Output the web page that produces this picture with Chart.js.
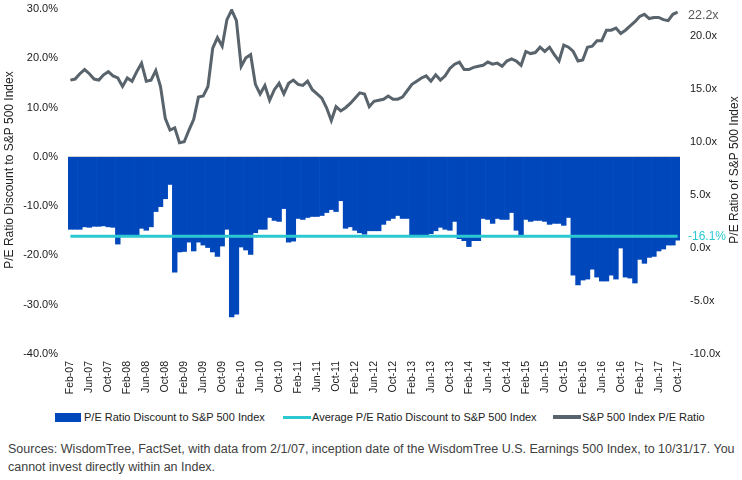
<!DOCTYPE html>
<html>
<head>
<meta charset="utf-8">
<script src="https://cdn.jsdelivr.net/npm/chart.js@4.4.0/dist/chart.umd.min.js"></script>
<style>
  body { margin: 0; background: #fff; font-family: "Liberation Sans", Arial, sans-serif; }
  #wrap { position: relative; width: 742px; height: 480px; overflow: hidden; }
  #chart { position: absolute; left: 0; top: 0; }
  .leg { position: absolute; top: 411px; font-size: 11px; line-height: 12px; color: #222; white-space: nowrap; }
  .sw { position: absolute; }
  #src { position: absolute; left: 8px; top: 440px; font-size: 12.5px; line-height: 18px; color: #404040; white-space: nowrap; }
</style>
</head>
<body>
<div id="wrap">
  <canvas id="chart" width="742" height="405"></canvas>
  <div class="sw" style="left:55px;top:413px;width:26px;height:9px;background:#0047BB"></div>
  <div class="leg" style="left:84px">P/E Ratio Discount to S&amp;P 500 Index</div>
  <div class="sw" style="left:283px;top:416px;width:28px;height:3px;background:#2CC8D2"></div>
  <div class="leg" style="left:312px">Average P/E Ratio Discount to S&amp;P 500 Index</div>
  <div class="sw" style="left:553px;top:415px;width:28px;height:4px;background:#58636B"></div>
  <div class="leg" style="left:582px">S&amp;P 500 Index P/E Ratio</div>
  <div id="src">Sources: WisdomTree, FactSet, with data from 2/1/07, inception date of the WisdomTree U.S. Earnings 500 Index, to 10/31/17. You<br>cannot invest directly within an Index.</div>
</div>
<script>
// monthly categories, Feb-07 .. Oct-17
const monthNames = ['Jan', 'Feb', 'Mar', 'Apr', 'May', 'Jun', 'Jul', 'Aug', 'Sep', 'Oct', 'Nov', 'Dec'];
const months = [];
for (let y = 2007; y <= 2017; y++) {
    for (let m = 0; m < 12; m++) {
        if (y === 2007 && m < 1) continue;
        if (y === 2017 && m > 9) continue;
        months.push(monthNames[m] + '-' + String(y).slice(2));
    }
}

const tickLabels = [
    'Feb-07', 'Jun-07', 'Oct-07', 'Feb-08', 'Jun-08', 'Oct-08', 'Feb-09', 'Jun-09', 'Oct-09',
    'Feb-10', 'Jun-10', 'Oct-10', 'Feb-11', 'Jun-11', 'Oct-11', 'Feb-12', 'Jun-12', 'Oct-12',
    'Feb-13', 'Jun-13', 'Oct-13', 'Feb-14', 'Jun-14', 'Oct-14', 'Feb-15', 'Jun-15', 'Oct-15',
    'Feb-16', 'Jun-16', 'Oct-16', 'Feb-17', 'Jun-17', 'Oct-17'
];

// P/E ratio discount to S&P 500 (%)
const discount = [
    -14.7, -14.7, -14.7, -14.2, -14.3, -14.1, -14.1, -14.0, -14.2, -14.3,
    -17.7, -15.9, -16.0, -16.0, -15.9, -14.5, -14.9, -14.2, -11.1, -10.1,
    -8.5, -5.6, -23.4, -19.3, -19.2, -17.3, -19.1, -17.3, -17.9, -18.4,
    -19.3, -20.2, -18.1, -14.7, -32.5, -31.9, -18.3, -18.9, -19.8, -15.4,
    -14.7, -14.7, -12.3, -12.9, -13.1, -10.5, -17.3, -17.1, -12.5, -12.7,
    -12.3, -12.1, -12.1, -11.9, -11.3, -10.7, -11.1, -8.9, -14.5, -14.2,
    -14.9, -15.4, -15.7, -15.0, -15.0, -15.0, -13.7, -12.9, -12.5, -11.9,
    -12.5, -12.5, -15.8, -15.8, -15.8, -15.8, -15.6, -15.0, -14.3, -14.7,
    -14.9, -13.1, -16.6, -17.0, -18.2, -17.0, -17.0, -12.5, -12.7, -13.5,
    -12.5, -12.7, -12.7, -11.3, -14.9, -16.0, -12.7, -13.1, -12.9, -12.9,
    -13.1, -13.7, -13.5, -13.5, -13.9, -12.3, -24.0, -26.0, -25.0, -24.8,
    -22.8, -24.4, -25.2, -25.2, -24.0, -24.8, -18.5, -24.4, -24.6, -25.6,
    -20.8, -21.6, -20.4, -20.2, -19.1, -18.7, -17.9, -17.9, -16.9
];

// S&P 500 Index P/E ratio (x)
const spxPE = [
    15.8, 15.9, 16.4, 16.8, 16.4, 15.9, 15.8, 16.3, 16.6, 16.2,
    16.0, 15.2, 16.0, 15.7, 16.6, 17.4, 15.7, 15.8, 16.7, 15.2,
    12.2, 11.1, 11.3, 9.9, 10.0, 11.1, 12.1, 14.2, 14.3, 15.2,
    18.8, 19.8, 19.0, 21.5, 22.4, 21.4, 17.1, 17.9, 18.2, 15.4,
    14.5, 15.3, 13.9, 14.9, 15.5, 14.5, 15.5, 15.8, 15.4, 15.3,
    15.7, 14.9, 14.5, 14.1, 13.2, 12.0, 13.3, 12.9, 13.2, 13.6,
    14.1, 14.6, 14.5, 13.3, 13.8, 13.9, 14.0, 14.3, 14.0, 14.0,
    14.2, 14.8, 15.4, 15.7, 16.0, 16.2, 15.7, 16.3, 15.8, 16.2,
    16.9, 17.3, 17.5, 16.8, 16.8, 17.0, 17.1, 17.2, 17.5, 17.3,
    17.4, 17.1, 17.6, 17.8, 17.6, 17.2, 18.5, 18.3, 18.4, 18.9,
    18.5, 18.9, 18.2, 17.6, 19.1, 18.9, 18.5, 17.6, 17.7, 18.9,
    19.0, 19.5, 19.5, 20.5, 20.5, 20.7, 20.2, 20.5, 20.9, 21.3,
    21.8, 22.0, 21.6, 21.7, 21.7, 21.5, 21.4, 22.0, 22.2
];

const avgDiscount = -16.1;
const avgLabel = '-16.1%';
const spxLastLabel = '22.2x';

const blue = '#0047BB';
const cyan = '#2CC8D2';
const grey = '#58636B';
const fontFamily = '"Liberation Sans", Arial, sans-serif';

const extraText = {
    id: 'extraText',
    afterDatasetsDraw(chart) {
        const { ctx, chartArea, scales } = chart;
        ctx.save();
        ctx.textBaseline = 'middle';
        ctx.textAlign = 'left';

        ctx.font = '12px ' + fontFamily;
        ctx.fillStyle = cyan;
        ctx.fillText(avgLabel, chartArea.right + 8, scales.y.getPixelForValue(avgDiscount));

        ctx.font = '12.5px ' + fontFamily;
        ctx.fillStyle = '#595959';
        ctx.fillText(spxLastLabel, chartArea.right + 8, scales.y1.getPixelForValue(spxPE[spxPE.length - 1]) + 3);

        // axis titles, both read bottom to top
        ctx.font = '12px ' + fontFamily;
        ctx.fillStyle = '#222';
        ctx.textAlign = 'center';
        ctx.translate(10, 170);
        ctx.rotate(-Math.PI / 2);
        ctx.fillText('P/E Ratio Discount to S&P 500 Index', 0, 0);
        ctx.rotate(Math.PI / 2);
        ctx.translate(725, 0);
        ctx.rotate(-Math.PI / 2);
        ctx.fillText('P/E Ratio of S&P 500 Index', 0, 0);
        ctx.restore();
    }
};

const ctx = document.getElementById('chart').getContext('2d');

new Chart(ctx, {
    data: {
        labels: months,
        datasets: [{
            type: 'bar',
            label: 'P/E Ratio Discount to S&P 500 Index',
            data: discount,
            backgroundColor: blue,
            borderWidth: 0,
            barPercentage: 1.0,
            categoryPercentage: 1.0,
            yAxisID: 'y',
            order: 2
        }, {
            type: 'line',
            label: 'Average P/E Ratio Discount to S&P 500 Index',
            data: months.map(() => avgDiscount),
            borderColor: cyan,
            borderWidth: 3,
            pointRadius: 0,
            yAxisID: 'y',
            order: 1
        }, {
            type: 'line',
            label: 'S&P 500 Index P/E Ratio',
            data: spxPE,
            borderColor: grey,
            borderWidth: 3,
            pointRadius: 0,
            tension: 0,
            yAxisID: 'y1',
            order: 0
        }]
    },
    options: {
        responsive: false,
        animation: false,
        layout: { padding: { top: 9, left: 0, right: 0, bottom: 0 } },
        plugins: {
            legend: { display: false },
            tooltip: { enabled: false }
        },
        scales: {
            x: {
                grid: { display: false, drawTicks: false },
                border: { display: false },
                ticks: {
                    autoSkip: false,
                    minRotation: 90,
                    maxRotation: 90,
                    padding: 7,
                    color: '#1a1a1a',
                    font: { family: fontFamily, size: 10.5 },
                    callback(v, i) {
                        return tickLabels.includes(months[i]) ? months[i] : null;
                    }
                },
                afterFit(scale) { scale.height = 51; }
            },
            y: {
                position: 'left',
                min: -40,
                max: 30,
                border: { display: false },
                grid: {
                    drawTicks: false,
                    color(c) { return c.tick && c.tick.value === 0 ? '#d0d0d0' : 'rgba(0,0,0,0)'; }
                },
                ticks: {
                    stepSize: 10,
                    padding: 10,
                    color: '#1a1a1a',
                    font: { family: fontFamily, size: 11 },
                    callback(v) { return v.toFixed(1) + '%'; }
                },
                afterFit(scale) {
                    scale.width = 68;
                    scale.paddingTop = 0;
                    scale.paddingBottom = 0;
                }
            },
            y1: {
                position: 'right',
                min: -10,
                max: 22.5,
                border: { display: false },
                grid: { display: false, drawTicks: false },
                ticks: {
                    stepSize: 5,
                    padding: 10,
                    color: '#1a1a1a',
                    font: { family: fontFamily, size: 11 },
                    callback(v) { return v.toFixed(1) + 'x'; }
                },
                afterBuildTicks(scale) {
                    scale.ticks = scale.ticks.filter(t => t.value % 5 === 0);
                },
                afterFit(scale) {
                    scale.width = 62;
                    scale.paddingTop = 0;
                    scale.paddingBottom = 0;
                }
            }
        }
    },
    plugins: [extraText]
});
</script>
</body>
</html>
